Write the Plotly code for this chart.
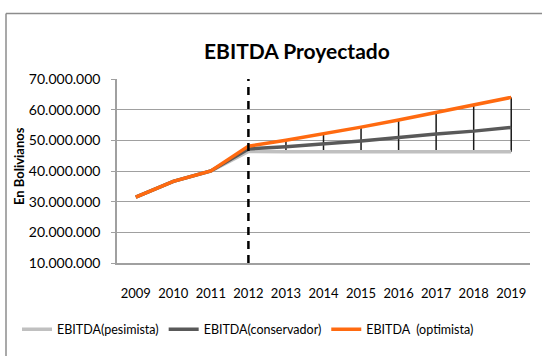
import plotly.graph_objects as go

# Años proyectados y valores de EBITDA (en Bolivianos)
anios = [2009, 2010, 2011, 2012, 2013, 2014, 2015, 2016, 2017, 2018, 2019]
ebitda_pesimista = [31500000, 36600000, 40000000, 46400000, 46300000, 46300000,
                    46300000, 46300000, 46300000, 46300000, 46300000]
ebitda_conservador = [31500000, 36600000, 40000000, 47200000, 47900000, 48800000,
                      49800000, 50900000, 52100000, 53000000, 54200000]
ebitda_optimista = [31500000, 36600000, 40000000, 48100000, 50000000, 52100000,
                    54300000, 56600000, 59100000, 61700000, 64000000]

y_ticks = [10000000, 20000000, 30000000, 40000000, 50000000, 60000000, 70000000]
y_tick_text = ["10.000.000", "20.000.000", "30.000.000", "40.000.000",
               "50.000.000", "60.000.000", "70.000.000"]
anio_corte = 2012

FONT = "Lato"

# Líneas máximo-mínimo entre escenario pesimista y optimista
rango = [o - p for o, p in zip(ebitda_optimista, ebitda_pesimista)]

fig = go.Figure()
fig.add_trace(go.Scatter(
    x=anios, y=ebitda_pesimista, mode="lines", name="EBITDA(pesimista)",
    line=dict(color="#C0C0C0", width=3.5),
    error_y=dict(type="data", symmetric=False, array=rango,
                 arrayminus=[0] * len(rango), color="#1a1a1a",
                 thickness=1.5, width=0),
))
fig.add_trace(go.Scatter(
    x=anios, y=ebitda_conservador, mode="lines", name="EBITDA(conservador)",
    line=dict(color="#595959", width=3.5),
))
fig.add_trace(go.Scatter(
    x=anios, y=ebitda_optimista, mode="lines", name="EBITDA  (optimista)",
    line=dict(color="#FF6A10", width=3.5),
))

# Línea vertical discontinua en el año de inicio de la proyección
fig.add_shape(type="line", xref="x", yref="paper", x0=anio_corte, x1=anio_corte,
              y0=0, y1=1, line=dict(color="black", width=2.5, dash="8px,6px"))

# Marco del gráfico
fig.add_shape(type="line", xref="paper", yref="paper",
              x0=(6 - 117) / 413, x1=(560 - 117) / 413,
              y0=(267 - 12) / 188, y1=(267 - 12) / 188,
              line=dict(color="#8C8C8C", width=1.5))
fig.add_shape(type="line", xref="paper", yref="paper",
              x0=(6 - 117) / 413, x1=(6 - 117) / 413,
              y0=(267 - 12) / 188, y1=(267 - 380) / 188,
              line=dict(color="#8C8C8C", width=1.5))

fig.add_annotation(text="<b>EBITDA Proyectado</b>", xref="paper", yref="paper",
                   x=(297 - 117) / 413, y=(267 - 50) / 188, showarrow=False,
                   xanchor="center", yanchor="middle",
                   font=dict(family=FONT, size=21, color="black"))
fig.add_annotation(text="<b>En Bolivianos</b>", xref="paper", yref="paper",
                   x=(19 - 117) / 413, y=(267 - 168) / 188, showarrow=False,
                   textangle=-90, xanchor="center", yanchor="middle",
                   font=dict(family=FONT, size=13, color="black"))

fig.update_layout(
    width=542, height=356,
    margin=dict(l=117, r=12, t=79, b=89),
    paper_bgcolor="white", plot_bgcolor="white",
    font=dict(family=FONT, size=13, color="black"),
    showlegend=True,
    legend=dict(orientation="h", x=(17 - 117) / 413, xanchor="left",
                y=(267 - 335) / 188, yanchor="middle",
                font=dict(family=FONT, size=12.5, color="black"),
                itemwidth=30, tracegroupgap=0),
    xaxis=dict(range=[2008.5, 2019.5], tickvals=anios,
               ticktext=[str(a) for a in anios], showgrid=False,
               showline=True, linecolor="#A0A0A0", linewidth=1.5,
               ticks="", zeroline=False, ticklabelstandoff=18,
               tickfont=dict(family=FONT, size=13)),
    yaxis=dict(range=[10000000, 70000000], tickvals=y_ticks,
               ticktext=y_tick_text, showgrid=True, gridcolor="#A0A0A0",
               gridwidth=1, showline=True, linecolor="#A0A0A0", linewidth=1.5,
               ticks="outside", ticklen=4, tickcolor="#A0A0A0",
               zeroline=False, ticklabelstandoff=8,
               tickfont=dict(family=FONT, size=14)),
)

fig.write_html("out.html")
